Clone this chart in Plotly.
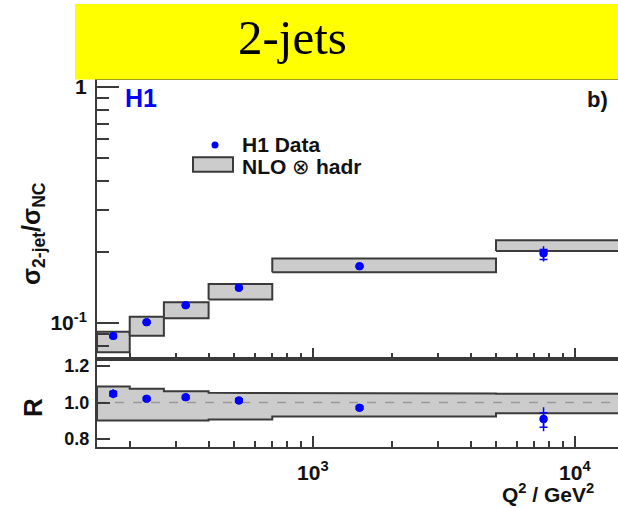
import math
import plotly.graph_objects as go

W, H = 618, 508

# ---------------- data ----------------
bin_edges = [150, 200, 270, 400, 700, 5000, 15000]
nlo_lo = [0.0752, 0.0884, 0.1047, 0.1259, 0.1640, 0.2018]
nlo_hi = [0.0918, 0.1064, 0.1224, 0.1463, 0.1876, 0.2240]

r_band_lo = [0.901, 0.901, 0.901, 0.907, 0.923, 0.941]
r_band_hi = [1.088, 1.075, 1.062, 1.053, 1.050, 1.048]

q2 = [173, 232, 327, 522, 1507, 7595]
ratio = [0.0881, 0.1007, 0.1188, 0.1410, 0.1739, 0.1974]
ratio_tot_up = [0.0022, 0.0016, 0.0018, 0.0018, 0.0022, 0.0143]
ratio_tot_dn = [0.0022, 0.0016, 0.0018, 0.0018, 0.0022, 0.0153]
ratio_stat_up = [0.0012, 0.0010, 0.0010, 0.0010, 0.0012, 0.0076]
ratio_stat_dn = [0.0012, 0.0010, 0.0010, 0.0010, 0.0012, 0.0114]

r_val = [1.048, 1.020, 1.029, 1.011, 0.971, 0.909]
r_tot_up = [0.025, 0.016, 0.016, 0.014, 0.013, 0.065]
r_tot_dn = [0.025, 0.016, 0.016, 0.014, 0.013, 0.066]
r_stat_up = [0.012, 0.008, 0.008, 0.008, 0.008, 0.035]
r_stat_dn = [0.012, 0.008, 0.008, 0.008, 0.008, 0.044]

x_major = [1000, 10000]
x_major_text = ["<b>10<sup>3</sup></b>", "<b>10<sup>4</sup></b>"]
x_minor = [200, 300, 400, 500, 600, 700, 800, 900,
           2000, 3000, 4000, 5000, 6000, 7000, 8000, 9000]
y_major = [0.1, 1]
y_major_text = ["<b>10<sup>-1</sup></b>", "<b>1</b>"]
y_minor = [0.08, 0.09, 0.2, 0.3, 0.4, 0.5, 0.6, 0.7, 0.8, 0.9]
r_ticks = [0.8, 1.0, 1.2]
r_text = ["<b>0.8</b>", "<b>1.0</b>", "<b>1.2</b>"]

# ---------------- geometry helpers ----------------
def px(x):
    return x / W

def py(y):
    return 1 - y / H

AX = "#3a3a3a"
BAND = "#cccccc"
BLUE = "#0000ff"
FONT = "Liberation Sans, Arial, sans-serif"

fig = go.Figure()

# top panel NLO boxes
for i in range(len(nlo_lo)):
    x0, x1 = bin_edges[i], bin_edges[i + 1]
    fig.add_trace(go.Scatter(
        x=[x0, x1, x1, x0, x0], y=[nlo_lo[i], nlo_lo[i], nlo_hi[i], nlo_hi[i], nlo_lo[i]],
        mode="lines", fill="toself", fillcolor=BAND,
        line=dict(color=AX, width=2), xaxis="x", yaxis="y",
        showlegend=False, hoverinfo="skip"))

# ratio band (continuous step band)
bx, by = [], []
for i in range(len(r_band_hi)):
    bx += [bin_edges[i], bin_edges[i + 1]]
    by += [r_band_hi[i], r_band_hi[i]]
for i in reversed(range(len(r_band_lo))):
    bx += [bin_edges[i + 1], bin_edges[i]]
    by += [r_band_lo[i], r_band_lo[i]]
bx.append(bx[0]); by.append(by[0])
fig.add_trace(go.Scatter(x=bx, y=by, mode="lines", fill="toself", fillcolor=BAND,
                         line=dict(color=AX, width=2), xaxis="x2", yaxis="y2",
                         showlegend=False, hoverinfo="skip"))

# dashed line at R = 1
fig.add_trace(go.Scatter(x=[bin_edges[0], bin_edges[-1]], y=[1, 1], mode="lines",
                         line=dict(color="#999999", width=1.5, dash="dash"),
                         xaxis="x2", yaxis="y2", showlegend=False, hoverinfo="skip"))

# data points: total errors (no caps) + stat errors (caps)
for yv, up, dn, w, xa, ya in [
        (ratio, ratio_tot_up, ratio_tot_dn, 0, "x", "y"),
        (ratio, ratio_stat_up, ratio_stat_dn, 4, "x", "y"),
        (r_val, r_tot_up, r_tot_dn, 0, "x2", "y2"),
        (r_val, r_stat_up, r_stat_dn, 4, "x2", "y2")]:
    fig.add_trace(go.Scatter(
        x=q2, y=yv, mode="markers", marker=dict(color=BLUE, size=8),
        error_y=dict(type="data", symmetric=False, array=up, arrayminus=dn,
                     color=BLUE, thickness=1.5, width=w),
        xaxis=xa, yaxis=ya, showlegend=False))

# ---------------- axes ----------------
x_left = 97
x_range = [math.log10(150), math.log10(150) + (W - x_left) / 262.0]

common_x = dict(type="log", range=x_range, domain=[px(x_left), 1], automargin=False,
                showline=True, linecolor=AX, linewidth=2, mirror=True,
                ticks="inside", tickmode="array", tickvals=x_major, ticklen=11,
                tickwidth=1.5, tickcolor=AX, showgrid=False, zeroline=False,
                minor=dict(ticks="inside", tickmode="array", tickvals=x_minor,
                           ticklen=6, tickwidth=1.5, tickcolor=AX, showgrid=False))

fig.update_layout(
    xaxis=dict(common_x, anchor="y", showticklabels=False),
    xaxis2=dict(common_x, anchor="y2", matches="x", showticklabels=True,
                ticktext=x_major_text, ticklabelstandoff=6,
                tickfont=dict(family=FONT, size=21, color="#111")),
    yaxis=dict(type="log", range=[-1.1538, 0.0297], domain=[py(359.3), py(80)],
               anchor="x", showline=True, linecolor=AX, linewidth=2, automargin=False,
               ticks="inside", tickmode="array", tickvals=y_major, ticktext=y_major_text,
               ticklen=22, tickwidth=1.5, tickcolor=AX, showgrid=False, zeroline=False,
               tickfont=dict(family=FONT, size=21, color="#111"), ticklabelstandoff=4,
               minor=dict(ticks="inside", tickmode="array", tickvals=y_minor,
                          ticklen=12, tickwidth=1.5, tickcolor=AX, showgrid=False)),
    yaxis2=dict(range=[0.759, 1.2367], domain=[py(446.5), py(359.3)],
                anchor="x2", showline=True, linecolor=AX, linewidth=2, automargin=False,
                ticks="inside", tickmode="array", tickvals=r_ticks, ticktext=r_text,
                ticklen=13, tickwidth=1.5, tickcolor=AX, showgrid=False, zeroline=False,
                tickfont=dict(family=FONT, size=18, color="#111"), ticklabelstandoff=2),
    width=W, height=H, margin=dict(l=0, r=0, t=0, b=0, autoexpand=False),
    paper_bgcolor="white", plot_bgcolor="rgba(0,0,0,0)",
    showlegend=False,
)

# ---------------- decorations ----------------
shapes = [
    dict(type="rect", xref="paper", yref="paper", x0=px(75), x1=1, y0=py(79.5), y1=py(4),
         fillcolor="#ffff00", line=dict(width=0), layer="above"),
    # legend glyphs
    dict(type="circle", xref="paper", yref="paper", x0=px(211.5), x1=px(218.5),
         y0=py(148.5), y1=py(141.5), fillcolor=BLUE, line=dict(width=0)),
    dict(type="rect", xref="paper", yref="paper", x0=px(193), x1=px(233),
         y0=py(171.7), y1=py(157.3), fillcolor=BAND, line=dict(color=AX, width=2)),
]
fig.update_layout(shapes=shapes)

ann = [
    dict(text="2-jets", x=px(292), y=py(38), font=dict(family="Liberation Serif, Times New Roman, serif", size=49, color="black")),
    dict(text="<b>H1</b>", x=px(141), y=py(98), font=dict(family=FONT, size=25, color=BLUE)),
    dict(text="<b>b)</b>", x=px(597), y=py(100), font=dict(family=FONT, size=22, color="#111")),
    dict(text="<b>H1 Data</b>", x=px(240), y=py(145), xanchor="left",
         font=dict(family=FONT, size=21, color="#111")),
    dict(text="<b>NLO</b> ⊗ <b>hadr</b>", x=px(240), y=py(166), xanchor="left",
         font=dict(family=FONT, size=21, color="#111")),
    dict(text="<b>σ<sub>2-jet</sub>/σ<sub>NC</sub></b>", x=px(33), y=py(234), textangle=-90,
         font=dict(family=FONT, size=25, color="#111")),
    dict(text="<b>R</b>", x=px(33), y=py(408), textangle=-90,
         font=dict(family=FONT, size=26, color="#111")),
    dict(text="<b>Q<sup>2</sup> / GeV<sup>2</sup></b>", x=px(596), y=py(493), xanchor="right",
         font=dict(family=FONT, size=21, color="#111")),
]
for a in ann:
    a.setdefault("xanchor", "center")
    a.setdefault("yanchor", "middle")
    a.update(xref="paper", yref="paper", showarrow=False)
fig.update_layout(annotations=ann)

fig.write_html(
    "out.html",
    config={"displayModeBar": False},
    post_script="document.body.style.margin='0';document.body.style.overflow='hidden';",
)
